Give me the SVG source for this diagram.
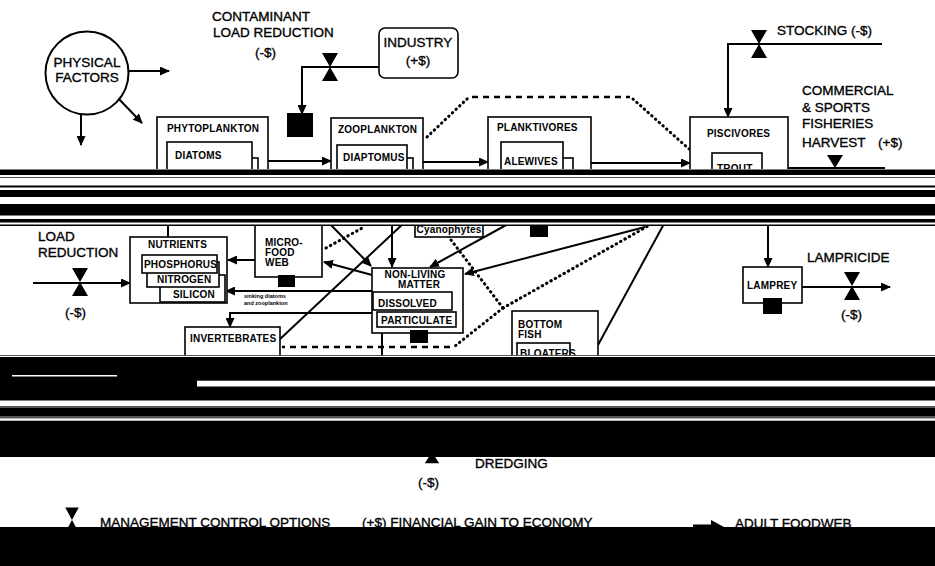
<svg xmlns="http://www.w3.org/2000/svg" width="935" height="566" viewBox="0 0 935 566">
<style>
  .big{font-family:"Liberation Sans",Arial,sans-serif;font-size:13.5px;fill:#000;stroke:#000;stroke-width:0.35}
  .lbl{font-family:"Liberation Sans",Arial,sans-serif;font-size:10px;font-weight:bold;fill:#000;letter-spacing:0.2px}
  .tiny{font-family:"Liberation Sans",Arial,sans-serif;font-size:5.5px;font-weight:bold;fill:#000}
  .box{fill:#fff;stroke:#000;stroke-width:1.6}
  .sq{fill:#000}
  .ln{fill:none;stroke:#000;stroke-width:2}
  .arr{fill:none;stroke:#000;stroke-width:2;marker-end:url(#ah)}
  .dot{fill:none;stroke:#000;stroke-width:3;stroke-dasharray:0.5 4.5;stroke-linecap:round}
  .dash{fill:none;stroke:#000;stroke-width:2.5;stroke-dasharray:6 5}
  .blk{fill:#000}
  .gry{fill:#555}
  .wht{fill:#fff}
</style>
<defs>
  <marker id="ah" markerUnits="userSpaceOnUse" markerWidth="10" markerHeight="9" refX="9" refY="4.5" orient="auto">
    <path d="M0,0 L10,4.5 L0,9 z" fill="#000"/>
  </marker>
  <path id="valve" d="M-8,-14 L8,-14 L0,0 z M-8,14 L8,14 L0,0 z" fill="#000"/>
</defs>
<rect width="935" height="566" fill="#fff"/>

<g id="connectors">
  <!-- physical factors -->
  <line class="arr" x1="129" y1="71" x2="169" y2="71"/>
  <line class="arr" x1="117" y1="97" x2="142" y2="123"/>
  <line class="arr" x1="81" y1="112" x2="81" y2="145"/>
  <!-- contaminant load -->
  <path class="arr" d="M379,67 H302 V114"/>
  <!-- stocking -->
  <path class="arr" d="M882,44 H728 V117"/>
  <!-- top food chain -->
  <line class="arr" x1="268" y1="161" x2="331" y2="161"/>
  <line class="arr" x1="423" y1="162" x2="488" y2="162"/>
  <line class="arr" x1="591" y1="163" x2="690" y2="163"/>
  <line class="ln" x1="788" y1="168" x2="885" y2="168"/>
  <!-- larval dotted/dashed path -->
  <line class="dot" x1="427" y1="137" x2="468" y2="98"/>
  <line class="dash" x1="472" y1="97" x2="630" y2="97"/>
  <line class="dot" x1="633" y1="99" x2="689" y2="149"/>
  <!-- lower section -->
  <line class="arr" x1="33" y1="283" x2="130" y2="283"/>
  <line class="ln" x1="168" y1="226" x2="168" y2="237"/>
  <line class="arr" x1="255" y1="260" x2="228" y2="260"/>
  <line class="arr" x1="372" y1="291" x2="226" y2="291"/>
  <path class="arr" d="M372,313 H230 V327"/>
  <line class="ln" x1="279" y1="340" x2="405" y2="222"/>
  <line class="arr" x1="330" y1="224" x2="371" y2="266"/>
  <line class="arr" x1="392" y1="226" x2="392" y2="267"/>
  <line class="arr" x1="372" y1="275" x2="324" y2="262"/>
  <line class="arr" x1="508" y1="224" x2="430" y2="267"/>
  <line class="arr" x1="645" y1="227" x2="465" y2="274"/>
  <line class="dot" x1="326" y1="248" x2="364" y2="227"/>
  <line class="dot" x1="448" y1="236" x2="503" y2="308"/>
  <line class="dot" x1="503" y1="308" x2="648" y2="226"/>
  <line class="dot" x1="503" y1="308" x2="455" y2="346"/>
  <line class="dash" x1="450" y1="347" x2="282" y2="347"/>
  <line class="ln" x1="382" y1="333" x2="382" y2="358"/>
  <line class="ln" x1="598" y1="345" x2="665" y2="222"/>
  <line class="arr" x1="768" y1="225" x2="768" y2="267"/>
  <line class="arr" x1="802" y1="287" x2="890" y2="287"/>
  <!-- legend arrow -->
  <line x1="693" y1="527" x2="713" y2="527" stroke="#000" stroke-width="5"/>
  <path d="M711,520 L724,527 L711,534 z" fill="#000"/>
</g>

<g id="physical-factors">
  <circle cx="87" cy="73" r="41.5" fill="#fff" stroke="#000" stroke-width="2"/>
  <text class="big" x="87" y="67" text-anchor="middle" font-size="13">PHYSICAL</text>
  <text class="big" x="87" y="82" text-anchor="middle" font-size="13">FACTORS</text>
</g>

<g id="contaminant-load-reduction">
  <text class="big" x="212" y="21" font-size="14">CONTAMINANT</text>
  <text class="big" x="213" y="37" font-size="14">LOAD REDUCTION</text>
  <text class="big" x="255" y="57" font-size="13">(-$)</text>
  <use href="#valve" x="330" y="67"/>
  <rect class="sq" x="287" y="113" width="26" height="24"/>
</g>

<g id="industry">
  <rect class="box" x="379" y="28" width="79" height="50" rx="6"/>
  <text class="big" x="418" y="47" text-anchor="middle">INDUSTRY</text>
  <text class="big" x="418" y="65" text-anchor="middle">(+$)</text>
</g>

<g id="stocking">
  <use href="#valve" x="759" y="44"/>
  <text class="big" x="777" y="35">STOCKING (-$)</text>
</g>

<g id="harvest">
  <text class="big" x="802" y="95">COMMERCIAL</text>
  <text class="big" x="802" y="112">&amp; SPORTS</text>
  <text class="big" x="802" y="128">FISHERIES</text>
  <text class="big" x="802" y="147">HARVEST</text>
  <text class="big" x="878" y="147">(+$)</text>
  <path d="M827,155 L843,155 L835,168 z" fill="#000"/>
</g>

<g id="phytoplankton">
  <rect class="box" x="157" y="117" width="111" height="80"/>
  <text class="lbl" x="167" y="132">PHYTOPLANKTON</text>
  <rect class="box" x="174" y="158" width="84" height="30"/>
  <rect class="box" x="167" y="142" width="85" height="40"/>
  <text class="lbl" x="175" y="159">DIATOMS</text>
</g>

<g id="zooplankton">
  <rect class="box" x="331" y="118" width="92" height="80"/>
  <text class="lbl" x="338" y="133">ZOOPLANKTON</text>
  <rect class="box" x="344" y="158" width="69" height="30"/>
  <rect class="box" x="337" y="145" width="70" height="40"/>
  <text class="lbl" x="343" y="161">DIAPTOMUS</text>
</g>

<g id="planktivores">
  <rect class="box" x="488" y="117" width="103" height="80"/>
  <text class="lbl" x="497" y="131">PLANKTIVORES</text>
  <rect class="box" x="511" y="158" width="62" height="30"/>
  <rect class="box" x="501" y="142" width="62" height="40"/>
  <text class="lbl" x="504" y="165">ALEWIVES</text>
</g>

<g id="piscivores">
  <rect class="box" x="690" y="117" width="98" height="80"/>
  <text class="lbl" x="707" y="137">PISCIVORES</text>
  <rect class="box" x="712" y="153" width="50" height="40"/>
  <text class="lbl" x="717" y="172">TROUT</text>
</g>

<g id="load-reduction">
  <text class="big" x="38" y="241">LOAD</text>
  <text class="big" x="38" y="257">REDUCTION</text>
  <use href="#valve" x="80" y="282"/>
  <text class="big" x="65" y="317">(-$)</text>
</g>

<g id="nutrients">
  <rect class="box" x="130" y="237" width="97" height="66"/>
  <text class="lbl" x="148" y="248">NUTRIENTS</text>
  <rect class="box" x="160" y="275" width="65" height="27"/>
  <text class="lbl" x="173" y="298">SILICON</text>
  <rect class="box" x="147" y="262" width="72" height="25"/>
  <text class="lbl" x="157" y="283">NITROGEN</text>
  <rect class="box" x="142" y="255" width="75" height="18"/>
  <text class="lbl" x="144" y="268">PHOSPHORUS</text>
</g>

<g id="micro-food-web">
  <rect class="box" x="255" y="210" width="67" height="67"/>
  <text class="lbl" x="265" y="246" font-size="9">MICRO-</text>
  <text class="lbl" x="265" y="256" font-size="9">FOOD</text>
  <text class="lbl" x="265" y="266" font-size="9">WEB</text>
  <rect class="sq" x="278" y="275" width="17" height="12"/>
</g>

<g id="sinking-label">
  <text class="tiny" x="244" y="298">sinking diatoms</text>
  <text class="tiny" x="244" y="305">and zooplankton</text>
</g>

<g id="invertebrates">
  <rect class="box" x="185" y="327" width="95" height="40"/>
  <text class="lbl" x="190" y="342">INVERTEBRATES</text>
</g>

<g id="cyanophytes">
  <rect class="box" x="415" y="212" width="68" height="25"/>
  <text class="lbl" x="449" y="233" text-anchor="middle">Cyanophytes</text>
  <rect class="sq" x="530" y="220" width="18" height="17"/>
</g>

<g id="non-living-matter">
  <rect class="box" x="372" y="268" width="91" height="65"/>
  <text class="lbl" x="415" y="278" text-anchor="middle">NON-LIVING</text>
  <text class="lbl" x="419" y="288" text-anchor="middle">MATTER</text>
  <rect class="box" x="373" y="292" width="79" height="18"/>
  <text class="lbl" x="378" y="307">DISSOLVED</text>
  <rect class="box" x="377" y="312" width="79" height="15"/>
  <text class="lbl" x="381" y="324">PARTICULATE</text>
  <rect class="sq" x="410" y="330" width="18" height="13"/>
</g>

<g id="bottom-fish">
  <rect class="box" x="512" y="311" width="86" height="55"/>
  <text class="lbl" x="518" y="328">BOTTOM</text>
  <text class="lbl" x="518" y="338">FISH</text>
  <rect class="box" x="517" y="343" width="53" height="20"/>
  <text class="lbl" x="520" y="357">BLOATERS</text>
</g>

<g id="lamprey">
  <rect class="box" x="743" y="267" width="59" height="36"/>
  <text class="lbl" x="747" y="289">LAMPREY</text>
  <rect class="sq" x="763" y="298" width="19" height="16"/>
</g>

<g id="lampricide">
  <text class="big" x="807" y="262">LAMPRICIDE</text>
  <use href="#valve" x="852" y="286"/>
  <text class="big" x="841" y="319">(-$)</text>
</g>

<g id="dredging">
  <use href="#valve" x="432" y="452" transform="translate(432,452) scale(0.9,0.8) translate(-432,-452)"/>
  <text class="big" x="475" y="468">DREDGING</text>
  <text class="big" x="418" y="487">(-$)</text>
</g>

<g id="legend">
  <use href="#valve" x="72" y="520" transform="translate(72,520) scale(0.85,0.9) translate(-72,-520)"/>
  <text class="big" x="100" y="526.5">MANAGEMENT CONTROL OPTIONS</text>
  <text class="big" x="362" y="526.5">(+$)  FINANCIAL GAIN TO ECONOMY</text>
  <text class="big" x="735" y="527.5">ADULT FOODWEB</text>
</g>

<g id="scan-bands">
  <!-- top band -->
  <rect class="wht" x="0" y="169" width="935" height="57"/>
  <rect class="blk" x="0" y="169.5" width="935" height="5.5"/>
  <rect class="gry" x="0" y="177" width="935" height="1"/>
  <rect class="blk" x="0" y="185.5" width="935" height="2"/>
  <rect class="blk" x="0" y="190" width="935" height="7"/>
  <rect class="blk" x="0" y="204" width="935" height="11.5"/>
  <rect class="blk" x="0" y="219" width="935" height="3.5"/>
  <rect class="blk" x="0" y="224.5" width="935" height="1.5"/>
  <!-- middle band -->
  <rect class="wht" x="0" y="355" width="935" height="102"/>
  <rect class="gry" x="0" y="355" width="935" height="1"/>
  <rect class="blk" x="0" y="357" width="935" height="23.7"/>
  <rect class="blk" x="0" y="380" width="197" height="7"/>
  <rect class="blk" x="0" y="386.5" width="935" height="14"/>
  <rect class="wht" x="12" y="375" width="105" height="1.5"/>
  <rect class="gry" x="0" y="406" width="935" height="2"/>
  <rect class="blk" x="0" y="408" width="935" height="8"/>
  <rect class="gry" x="0" y="416" width="935" height="2.5"/>
  <rect class="blk" x="0" y="420.7" width="935" height="36.3"/>
  <!-- bottom band -->
  <rect class="blk" x="0" y="527" width="935" height="39"/>
</g>
</svg>
